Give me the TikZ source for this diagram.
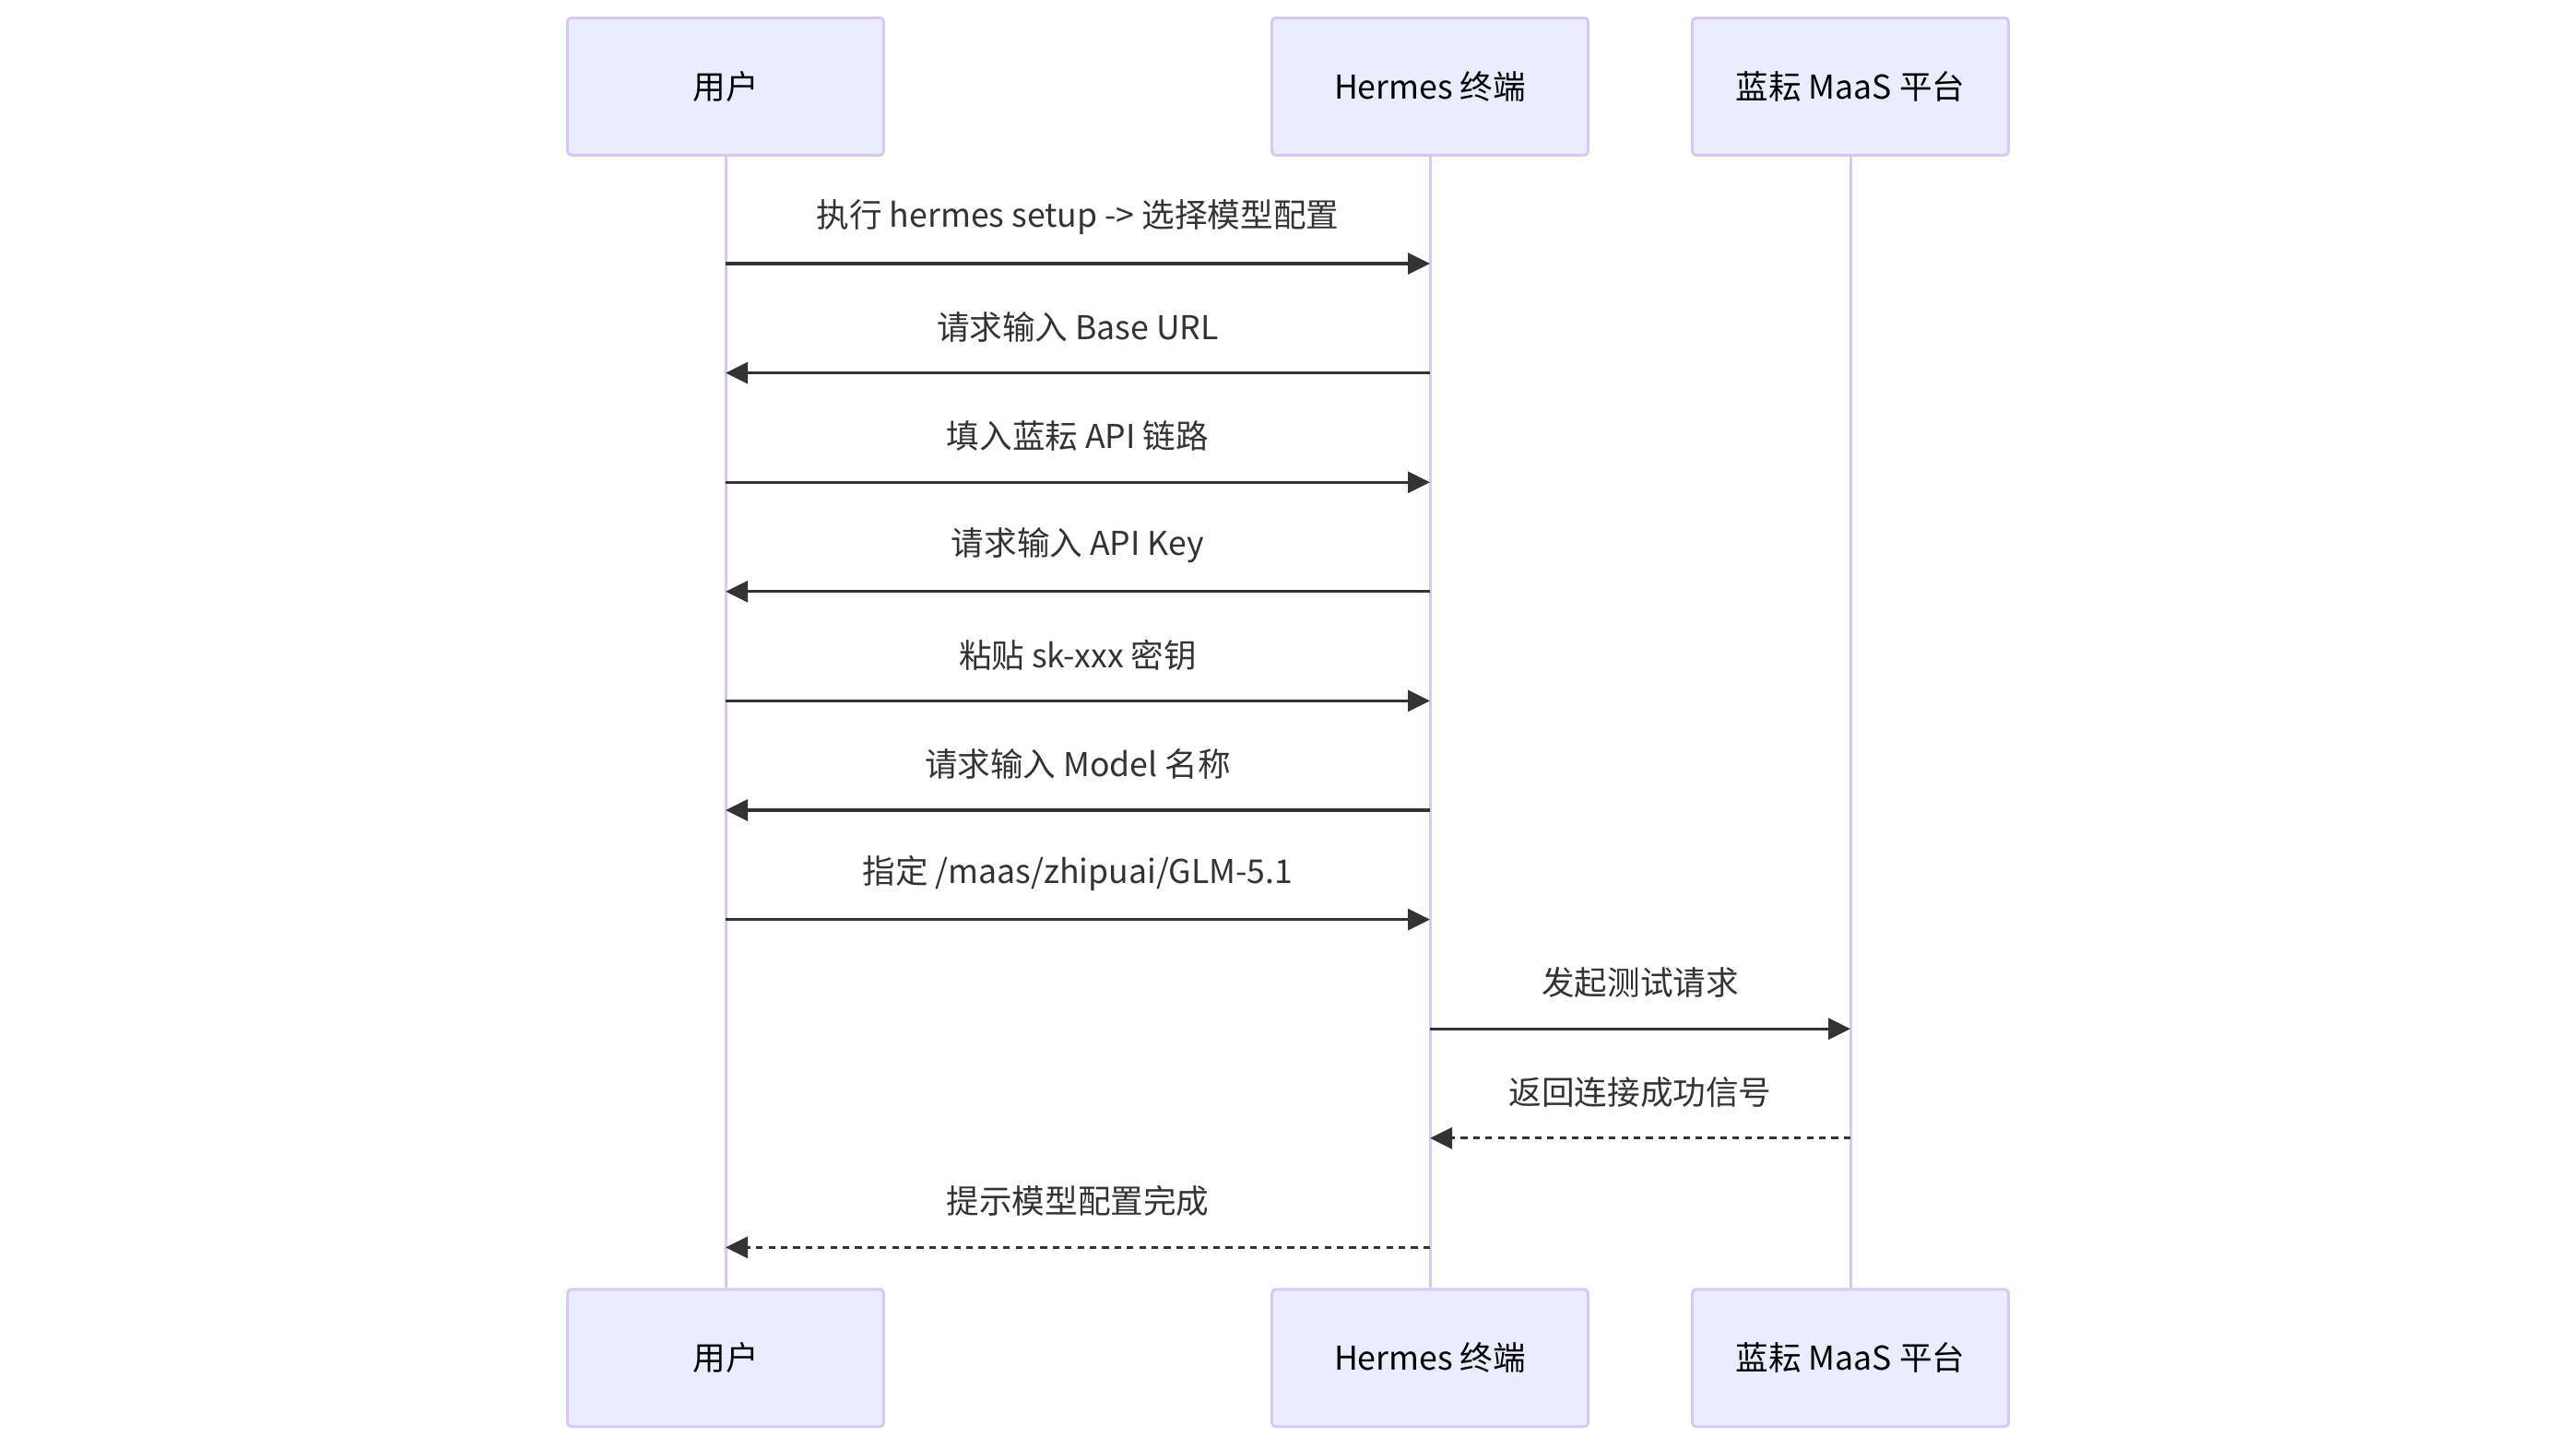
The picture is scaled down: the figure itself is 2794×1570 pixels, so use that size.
\documentclass[tikz,border=0pt]{standalone}
\usepackage{fontspec}
\newfontfamily\cjk{Noto Sans CJK SC}
\usetikzlibrary{arrows.meta}
\definecolor{actorfill}{HTML}{ECECFF}
\definecolor{actorline}{HTML}{D6CAF2}
\definecolor{msgline}{HTML}{333333}
\tikzset{
	actor/.style={draw=actorline,line width=1.5pt,fill=actorfill,rounded corners=2pt,
		minimum width=171.3pt,minimum height=74.5pt,inner sep=0pt,text=black},
	msg/.style={draw=msgline,line width=1.6pt,-{Triangle[length=12pt,width=11.5pt]}},
	reply/.style={msg,dash pattern=on 3.6pt off 3.1pt},
	lbl/.style={midway,yshift=25pt,text=msgline}
}
\begin{document}
\begin{tikzpicture}[x=0.5pt,y=-0.5pt,font=\cjk\fontsize{17.8}{22}\selectfont]
	\def \ux{787};
	\def \hx{1551};
	\def \mx{2007};
	\def \ytop{93.8};
	\def \ybot{1473.3};
	\useasboundingbox (0,0) rectangle (2794,1570);
	% actors, top and bottom
	\foreach \n/\x/\t in {u/\ux/用户,h/\hx/Hermes 终端,m/\mx/蓝耘 MaaS 平台}{
		\node[actor] (top\n) at (\x,\ytop) {\raisebox{-1.5pt}{\t}};
		\node[actor] (bot\n) at (\x,\ybot) {\raisebox{-1.5pt}{\t}};
		\draw[actorline,line width=1.5pt] (top\n.south) -- (bot\n.north);
	}
	% messages
	\foreach \i/\f/\g/\s/\t in {
		1/u/h/msg/执行 hermes setup -> 选择模型配置,
		2/h/u/msg/请求输入 Base URL,
		3/u/h/msg/填入蓝耘 API 链路,
		4/h/u/msg/请求输入 API Key,
		5/u/h/msg/粘贴 sk-xxx 密钥,
		6/h/u/msg/请求输入 Model 名称,
		7/u/h/msg/{指定 /maas/zhipuai/GLM-5.1},
		8/h/m/msg/发起测试请求,
		9/m/h/reply/返回连接成功信号,
		10/h/u/reply/提示模型配置完成}{
		\pgfmathsetmacro{\y}{286+118.6*(\i-1)}
		\path
		(\ux,\y) coordinate (u\i)
		(\hx,\y) coordinate (h\i)
		(\mx,\y) coordinate (m\i)
		;
		\draw[\s] (\f\i) -- (\g\i) node[lbl] {\t};
	}
\end{tikzpicture}
\end{document}
